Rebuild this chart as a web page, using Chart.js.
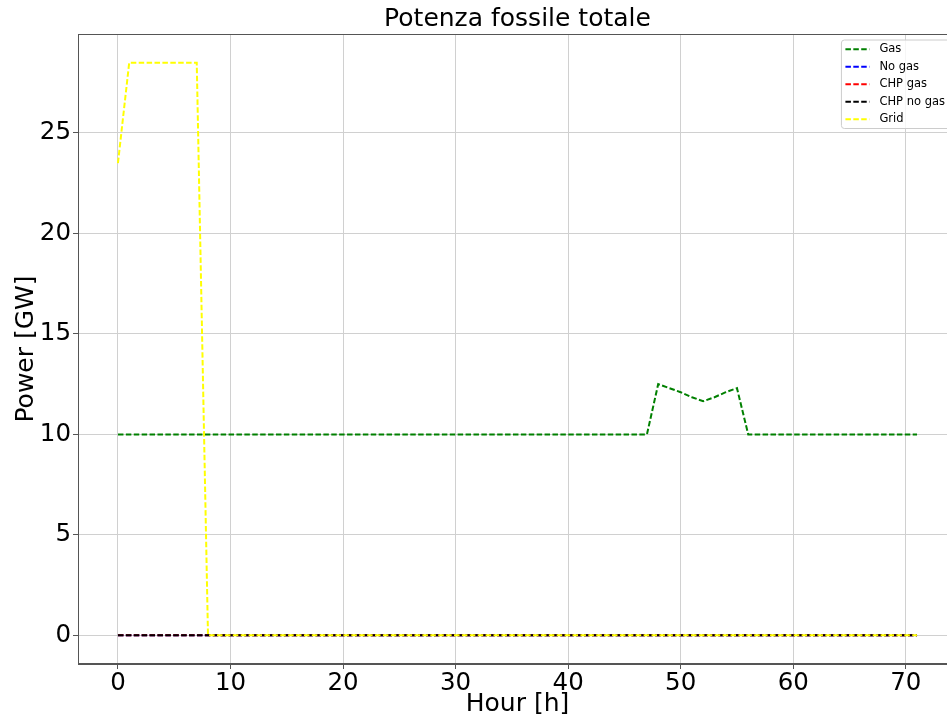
<!DOCTYPE html>
<html>
<head>
<meta charset="utf-8">
<script src="https://cdn.jsdelivr.net/npm/chart.js@4/dist/chart.umd.min.js"></script>
<style>
  html, body { margin: 0; padding: 0; background: #fff; overflow: hidden; }
  #wrap { width: 957px; height: 717px; position: relative; }
</style>
</head>
<body>
<div id="wrap"><canvas id="chart"></canvas></div>
<script>
const hours = [0, 1, 2, 3, 4, 5, 6, 7, 8, 9, 10, 11, 12, 13, 14, 15, 16, 17, 18, 19,
  20, 21, 22, 23, 24, 25, 26, 27, 28, 29, 30, 31, 32, 33, 34, 35, 36, 37, 38, 39,
  40, 41, 42, 43, 44, 45, 46, 47, 48, 49, 50, 51, 52, 53, 54, 55, 56, 57, 58, 59,
  60, 61, 62, 63, 64, 65, 66, 67, 68, 69, 70, 71];

const gas = [10, 10, 10, 10, 10, 10, 10, 10, 10, 10, 10, 10, 10, 10, 10, 10, 10, 10, 10, 10,
  10, 10, 10, 10, 10, 10, 10, 10, 10, 10, 10, 10, 10, 10, 10, 10, 10, 10, 10, 10,
  10, 10, 10, 10, 10, 10, 10, 10, 12.5, 12.3, 12.1, 11.85, 11.65, 11.85, 12.1, 12.3, 10, 10, 10, 10,
  10, 10, 10, 10, 10, 10, 10, 10, 10, 10, 10, 10];

const noGas = [0, 0, 0, 0, 0, 0, 0, 0, 0, 0, 0, 0, 0, 0, 0, 0, 0, 0, 0, 0,
  0, 0, 0, 0, 0, 0, 0, 0, 0, 0, 0, 0, 0, 0, 0, 0, 0, 0, 0, 0,
  0, 0, 0, 0, 0, 0, 0, 0, 0, 0, 0, 0, 0, 0, 0, 0, 0, 0, 0, 0,
  0, 0, 0, 0, 0, 0, 0, 0, 0, 0, 0, 0];

const chpGas = [0, 0, 0, 0, 0, 0, 0, 0, 0, 0, 0, 0, 0, 0, 0, 0, 0, 0, 0, 0,
  0, 0, 0, 0, 0, 0, 0, 0, 0, 0, 0, 0, 0, 0, 0, 0, 0, 0, 0, 0,
  0, 0, 0, 0, 0, 0, 0, 0, 0, 0, 0, 0, 0, 0, 0, 0, 0, 0, 0, 0,
  0, 0, 0, 0, 0, 0, 0, 0, 0, 0, 0, 0];

const chpNoGas = [0, 0, 0, 0, 0, 0, 0, 0, 0, 0, 0, 0, 0, 0, 0, 0, 0, 0, 0, 0,
  0, 0, 0, 0, 0, 0, 0, 0, 0, 0, 0, 0, 0, 0, 0, 0, 0, 0, 0, 0,
  0, 0, 0, 0, 0, 0, 0, 0, 0, 0, 0, 0, 0, 0, 0, 0, 0, 0, 0, 0,
  0, 0, 0, 0, 0, 0, 0, 0, 0, 0, 0, 0];

const grid = [23.5, 28.5, 28.5, 28.5, 28.5, 28.5, 28.5, 28.5, 0, 0, 0, 0, 0, 0, 0, 0, 0, 0, 0, 0,
  0, 0, 0, 0, 0, 0, 0, 0, 0, 0, 0, 0, 0, 0, 0, 0, 0, 0, 0, 0,
  0, 0, 0, 0, 0, 0, 0, 0, 0, 0, 0, 0, 0, 0, 0, 0, 0, 0, 0, 0,
  0, 0, 0, 0, 0, 0, 0, 0, 0, 0, 0, 0];

const seriesNames = ["Gas", "No gas", "CHP gas", "CHP no gas", "Grid"];
const seriesColors = ["#008000", "#0000ff", "#ff0000", "#000000", "#ffff00"];
const seriesValues = [gas, noGas, chpGas, chpNoGas, grid];

const xTicks = [0, 10, 20, 30, 40, 50, 60, 70];
const yTicks = [0, 5, 10, 15, 20, 25];

const dash = [5.5, 2.4];

Chart.defaults.font.family = "'DejaVu Sans', sans-serif";
Chart.defaults.color = "#000";

function points(values) {
  return hours.map(function (h, i) { return { x: h, y: values[i] }; });
}

// matplotlib style frame + legend box inside the axes
const framePlugin = {
  id: "frame",
  afterDatasetsDraw(chart) {
    const a = chart.chartArea;
    const c = chart.ctx;
    c.save();
    c.strokeStyle = "#555";
    c.lineWidth = 1;
    c.strokeRect(a.left + 0.5, a.top + 0.5, a.right - a.left - 1, a.bottom - a.top - 1);
    c.restore();
  },
  afterDraw(chart) {
    const a = chart.chartArea;
    const c = chart.ctx;
    const fontSize = 11.5;
    const rowH = 17.5;
    c.save();
    c.font = fontSize + "px 'DejaVu Sans'";
    let tw = 0;
    seriesNames.forEach(function (n) { tw = Math.max(tw, c.measureText(n).width); });
    const w = 38 + tw + 6;
    const h = rowH * seriesNames.length + 1;
    const right = a.right - 6;
    const left = right - w;
    const top = a.top + 6;
    c.beginPath();
    c.roundRect(left, top, w, h, 3);
    c.fillStyle = "rgba(255,255,255,0.8)";
    c.fill();
    c.strokeStyle = "#cccccc";
    c.lineWidth = 1;
    c.stroke();
    c.textBaseline = "middle";
    seriesNames.forEach(function (n, i) {
      const y = top + 9.3 + i * rowH;
      c.beginPath();
      c.setLineDash(dash);
      c.strokeStyle = seriesColors[i];
      c.lineWidth = 2;
      c.moveTo(left + 4, y);
      c.lineTo(left + 28, y);
      c.stroke();
      c.setLineDash([]);
      c.fillStyle = "#000";
      c.fillText(n, left + 38, y);
    });
    c.restore();
  }
};

const ctx = document.getElementById("chart");

new Chart(ctx, {
  type: "line",
  data: {
    datasets: seriesNames.map(function (name, i) {
      return {
        label: name,
        data: points(seriesValues[i]),
        borderColor: seriesColors[i],
        backgroundColor: seriesColors[i],
        borderWidth: 2,
        borderDash: dash,
        borderCapStyle: "butt",
        pointRadius: 0,
        tension: 0,
        fill: false,
        order: seriesNames.length - i
      };
    })
  },
  options: {
    responsive: true,
    maintainAspectRatio: false,
    animation: false,
    layout: { padding: 0 },
    plugins: {
      legend: { display: false },
      tooltip: { enabled: false },
      title: {
        display: true,
        text: "Potenza fossile totale",
        fullSize: false,
        font: { size: 25, weight: "normal" },
        color: "#000",
        padding: { top: 4, bottom: 0 }
      }
    },
    scales: {
      x: {
        type: "linear",
        min: -3.55,
        max: 74.55,
        afterBuildTicks: function (scale) {
          scale.ticks = xTicks.map(function (v) { return { value: v }; });
        },
        afterFit: function (scale) { scale.height = 53; },
        ticks: { font: { size: 24.5 }, color: "#000", padding: 0, maxRotation: 0 },
        grid: { color: "#d0d0d0", lineWidth: 1, tickColor: "#555", tickLength: 5 },
        border: { color: "#555", width: 1 },
        title: {
          display: true,
          text: "Hour [h]",
          font: { size: 25, lineHeight: 1.0 },
          color: "#000",
          padding: 0
        }
      },
      y: {
        type: "linear",
        min: -1.425,
        max: 29.925,
        afterBuildTicks: function (scale) {
          scale.ticks = yTicks.map(function (v) { return { value: v }; });
        },
        afterFit: function (scale) { scale.width = 78; },
        ticks: { font: { size: 24.5 }, color: "#000", padding: 2 },
        grid: { color: "#d0d0d0", lineWidth: 1, tickColor: "#555", tickLength: 5 },
        border: { color: "#555", width: 1 },
        title: {
          display: true,
          text: "Power [GW]",
          font: { size: 25 },
          color: "#000",
          padding: { top: 11, bottom: 0 }
        }
      }
    }
  },
  plugins: [framePlugin]
});
</script>
</body>
</html>
